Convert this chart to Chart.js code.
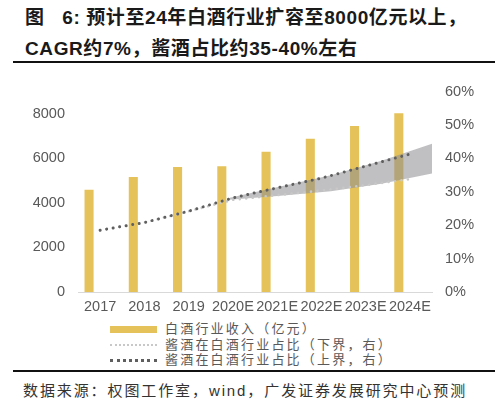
<!DOCTYPE html>
<html>
<head>
<meta charset="utf-8">
<script src="https://cdn.jsdelivr.net/npm/chart.js@4.4.0/dist/chart.umd.min.js"></script>
<style>
  html, body { margin: 0; padding: 0; background: #fff; }
  body { width: 500px; height: 409px; position: relative; overflow: hidden;
         font-family: "Liberation Sans", "Noto Sans CJK SC", sans-serif; }
  #title { position: absolute; left: 25px; top: 2px; font-size: 19px; font-weight: bold;
           line-height: 31px; color: #1a1a1a; white-space: nowrap; letter-spacing: 0.6px; }
  .rule { position: absolute; left: 13px; width: 482px; height: 2px; background: #111; }
  #wrap { position: absolute; left: 0; top: 70px; width: 500px; height: 250px; }
  #legend { position: absolute; left: 110px; top: 321px; font-size: 13px; color: #595959;
            letter-spacing: 2.2px; }
  .li { height: 15.5px; line-height: 15.5px; position: relative; white-space: nowrap; }
  .sw { position: absolute; left: 0; width: 47px; }
  .tx { position: absolute; left: 55px; top: 0; }
  #source { position: absolute; left: 23px; top: 379px; font-size: 15px; color: #333;
            letter-spacing: 1.9px; white-space: nowrap; }
</style>
</head>
<body>
<div id="title">图&nbsp;&nbsp;&nbsp;6:&nbsp;预计至24年白酒行业扩容至8000亿元以上，<br>CAGR约7%，酱酒占比约35-40%左右</div>
<div class="rule" style="top:61px"></div>
<div id="wrap"><canvas id="c" width="500" height="250"></canvas></div>
<div id="legend">
  <div class="li"><div class="sw" style="top:5px;height:7px;background:#E5C35A"></div><div class="tx">白酒行业收入（亿元）</div></div>
  <div class="li"><div class="sw" style="top:7px;height:0;border-top:2.5px dotted #C8C8C8"></div><div class="tx">酱酒在白酒行业占比（下界，右）</div></div>
  <div class="li"><div class="sw" style="top:7px;height:0;border-top:3px dotted #5F5F5F"></div><div class="tx">酱酒在白酒行业占比（上界，右）</div></div>
</div>
<div class="rule" style="top:370px"></div>
<div id="source">数据来源：权图工作室，wind，广发证券发展研究中心预测</div>
<script>
const categories = ['2017', '2018', '2019', '2020E', '2021E', '2022E', '2023E', '2024E'];
const revenue = [4590, 5170, 5620, 5645, 6305, 6890, 7455, 8030];
const shareLower = [18.5, 20.8, 24.2, 27.6, 29.0, 30.4, 32.0, 33.8];
const shareUpper = [18.5, 20.8, 24.2, 28.2, 31.2, 34.1, 37.7, 41.3];
const bandPos = [3, 4, 5, 6, 7];
const bandLow = [27.6, 28.8, 30.2, 32.4, 35.5];
const bandHigh = [28.2, 31.6, 35.0, 39.3, 44.4];
const leftTicks = [0, 2000, 4000, 6000, 8000];
const rightTicks = [0, 10, 20, 30, 40, 50, 60];

const tickFont = { family: '"Liberation Sans", Arial, sans-serif', size: 14.5 };
const tickColor = '#595959';

new Chart(document.getElementById('c'), {
  data: {
    labels: categories,
    datasets: [
      { type: 'bar', label: '白酒行业收入（亿元）', data: revenue, backgroundColor: '#E5C35A',
        yAxisID: 'y', xAxisID: 'x', categoryPercentage: 1, barPercentage: 0.41, order: 10 },
      { type: 'line', label: 'bandLow', data: bandPos.map((p, i) => ({ x: p, y: bandLow[i] })),
        xAxisID: 'xb', yAxisID: 'y2', borderWidth: 0, pointRadius: 0, fill: false, order: 6 },
      { type: 'line', label: 'bandHigh', data: bandPos.map((p, i) => ({ x: p, y: bandHigh[i] })),
        xAxisID: 'xb', yAxisID: 'y2', borderWidth: 0, pointRadius: 0,
        fill: '-1', backgroundColor: 'rgba(140,140,145,0.55)', order: 5 },
      { type: 'line', label: '酱酒在白酒行业占比（下界，右）', data: shareLower, xAxisID: 'x', yAxisID: 'y2',
        borderColor: '#C8C8C8', borderWidth: 2.6, borderDash: [0.01, 6.5], borderCapStyle: 'round',
        pointRadius: 0, fill: false, tension: 0, order: 2 },
      { type: 'line', label: '酱酒在白酒行业占比（上界，右）', data: shareUpper, xAxisID: 'x', yAxisID: 'y2',
        borderColor: '#5F5F5F', borderWidth: 3, borderDash: [0.01, 6.6], borderCapStyle: 'round',
        pointRadius: 0, fill: false, tension: 0, order: 1 }
    ]
  },
  options: {
    responsive: false,
    animation: false,
    layout: { padding: { top: 13, left: 0, right: 0, bottom: 0 } },
    plugins: { legend: { display: false }, tooltip: { enabled: false } },
    scales: {
      x: {
        type: 'category', offset: true,
        grid: { display: false, drawTicks: false },
        border: { display: true, color: '#D9D9D9', width: 1 },
        ticks: { color: tickColor, font: tickFont, padding: 6, maxRotation: 0, minRotation: 0, autoSkip: false },
        afterFit: s => { s.height = 28; }
      },
      xb: {
        type: 'linear', display: false, min: 0, max: 7, offset: false
      },
      y: {
        position: 'left', min: 0, max: 9000,
        grid: { display: false, drawTicks: false },
        border: { display: false },
        ticks: { color: tickColor, font: tickFont, padding: 13, callback: v => String(v) },
        afterBuildTicks: s => { s.ticks = leftTicks.map(v => ({ value: v })); },
        afterFit: s => { s.width = 78; }
      },
      y2: {
        position: 'right', min: 0, max: 60,
        grid: { display: false, drawTicks: false },
        border: { display: false },
        ticks: { color: tickColor, font: tickFont, padding: 13, callback: v => v + '%' },
        afterBuildTicks: s => { s.ticks = rightTicks.map(v => ({ value: v })); },
        afterFit: s => { s.width = 68; }
      }
    }
  }
});
</script>
</body>
</html>
